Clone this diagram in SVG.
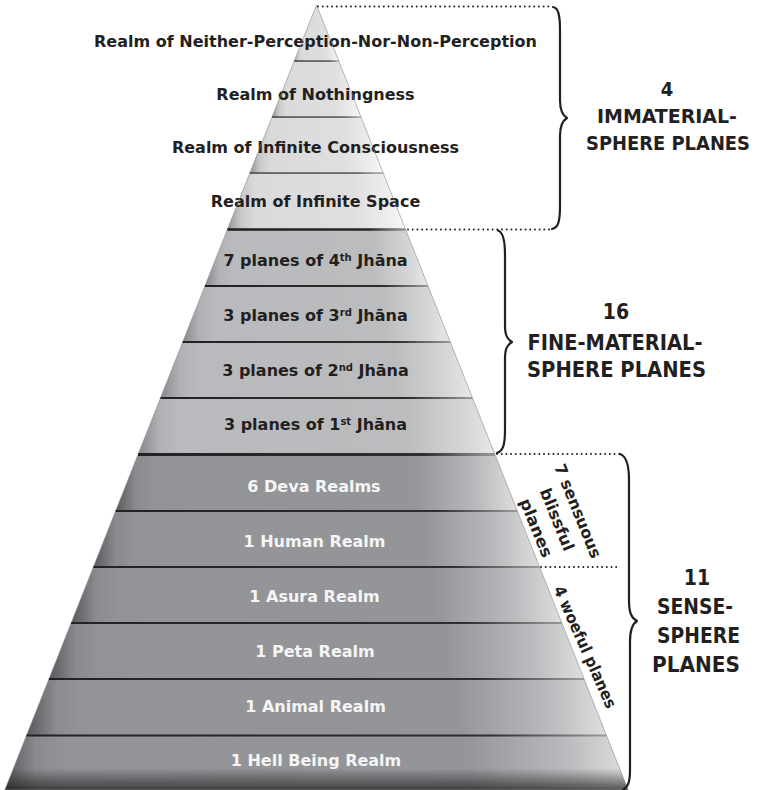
<svg xmlns="http://www.w3.org/2000/svg" width="757" height="790" viewBox="0 0 757 790">
<style>
.lbl{font-family:"DejaVu Sans",Verdana,sans-serif;font-weight:bold;font-size:16px;text-anchor:middle}
.dk{fill:#231f20}
.lt{fill:#f5f5f5}
.cat{font-family:"DejaVu Sans Condensed","DejaVu Sans",sans-serif;font-stretch:condensed;font-weight:bold;fill:#231f20;text-anchor:middle}
.rot{font-family:"DejaVu Sans Condensed","DejaVu Sans",sans-serif;font-stretch:condensed;font-weight:bold;font-size:16px;fill:#231f20;text-anchor:middle}
.brace{fill:none;stroke:#231f20;stroke-width:2.2;stroke-linecap:round;stroke-linejoin:round}
.dots{fill:none;stroke:#231f20;stroke-width:2;stroke-linecap:round;stroke-dasharray:0 4.7}
.imm{fill:url(#gImm)}
.fin{fill:url(#gFin)}
.sen{fill:url(#gSen)}
</style>
<defs>
<linearGradient id="gImm" x1="0" y1="0" x2="1" y2="0">
<stop offset="0" stop-color="#959596"/>
<stop offset="0.08" stop-color="#cacacb"/>
<stop offset="0.16" stop-color="#dadadb"/>
<stop offset="0.7" stop-color="#dfdfe0"/>
<stop offset="0.9" stop-color="#ededed"/>
<stop offset="1" stop-color="#f8f8f8"/>
</linearGradient>
<linearGradient id="gFin" x1="0" y1="0" x2="1" y2="0">
<stop offset="0" stop-color="#86878a"/>
<stop offset="0.06" stop-color="#b0b1b4"/>
<stop offset="0.12" stop-color="#b9babd"/>
<stop offset="0.75" stop-color="#bbbcbe"/>
<stop offset="0.92" stop-color="#d5d6d7"/>
<stop offset="1" stop-color="#e8e8e8"/>
</linearGradient>
<linearGradient id="gSen" x1="0" y1="0" x2="1" y2="0">
<stop offset="0" stop-color="#58595c"/>
<stop offset="0.05" stop-color="#8a8b8f"/>
<stop offset="0.1" stop-color="#939498"/>
<stop offset="0.74" stop-color="#949599"/>
<stop offset="0.9" stop-color="#b9babd"/>
<stop offset="1" stop-color="#dedede"/>
</linearGradient>
<linearGradient id="gBot" x1="0" y1="0" x2="0" y2="1">
<stop offset="0" stop-color="#1a1a1a" stop-opacity="0"/>
<stop offset="0.6" stop-color="#1a1a1a" stop-opacity="0"/>
<stop offset="1" stop-color="#1a1a1a" stop-opacity="0.7"/>
</linearGradient>
<linearGradient id="gLine" x1="0" y1="0" x2="1" y2="0">
<stop offset="0" stop-color="#222"/>
<stop offset="0.8" stop-color="#2e2e2e"/>
<stop offset="1" stop-color="#9a9a9a"/>
</linearGradient>
</defs>
<rect width="757" height="790" fill="#fff"/>

<!-- Immaterial-sphere planes -->
<g id="band-neither">
<polygon class="imm" points="316.5,5 338.73,61 294.27,61"/>
<text class="lbl dk" x="315.5" y="46.5">Realm of Neither-Perception-Nor-Non-Perception</text>
</g>
<g id="band-nothingness">
<polygon class="imm" points="294.27,61 338.73,61 360.96,117 272.04,117"/>
<text class="lbl dk" x="315.5" y="99.5">Realm of Nothingness</text>
</g>
<g id="band-inf-consciousness">
<polygon class="imm" points="272.04,117 360.96,117 383.2,173 249.8,173"/>
<text class="lbl dk" x="315.5" y="152.5">Realm of Infinite Consciousness</text>
</g>
<g id="band-inf-space">
<polygon class="imm" points="249.8,173 383.2,173 405.63,229.5 227.37,229.5"/>
<text class="lbl dk" x="315.5" y="206.5">Realm of Infinite Space</text>
</g>

<!-- Fine-material-sphere planes -->
<g id="band-jhana4">
<polygon class="fin" points="227.37,229.5 405.63,229.5 428.06,286 204.94,286"/>
<text class="lbl dk" x="315.5" y="266">7 planes of 4<tspan font-size="10" dy="-5">th</tspan><tspan dy="5"> Jhāna</tspan></text>
</g>
<g id="band-jhana3">
<polygon class="fin" points="204.94,286 428.06,286 450.29,342 182.71,342"/>
<text class="lbl dk" x="315.5" y="320.5">3 planes of 3<tspan font-size="10" dy="-5">rd</tspan><tspan dy="5"> Jhāna</tspan></text>
</g>
<g id="band-jhana2">
<polygon class="fin" points="182.71,342 450.29,342 472.52,398 160.48,398"/>
<text class="lbl dk" x="315.5" y="375.5">3 planes of 2<tspan font-size="10" dy="-5">nd</tspan><tspan dy="5"> Jhāna</tspan></text>
</g>
<g id="band-jhana1">
<polygon class="fin" points="160.48,398 472.52,398 494.95,454.5 138.05,454.5"/>
<text class="lbl dk" x="315.5" y="429.5">3 planes of 1<tspan font-size="10" dy="-5">st</tspan><tspan dy="5"> Jhāna</tspan></text>
</g>

<!-- Sense-sphere planes -->
<g id="band-deva">
<polygon class="sen" points="138.05,454.5 494.95,454.5 517.38,511 115.62,511"/>
<text class="lbl lt" x="314" y="491.5">6 Deva Realms</text>
</g>
<g id="band-human">
<polygon class="sen" points="115.62,511 517.38,511 539.61,567 93.39,567"/>
<text class="lbl lt" x="314.5" y="546.5">1 Human Realm</text>
</g>
<g id="band-asura">
<polygon class="sen" points="93.39,567 539.61,567 561.85,623 71.15,623"/>
<text class="lbl lt" x="314.5" y="601.5">1 Asura Realm</text>
</g>
<g id="band-peta">
<polygon class="sen" points="71.15,623 561.85,623 584.08,679 48.92,679"/>
<text class="lbl lt" x="315" y="656.5">1 Peta Realm</text>
</g>
<g id="band-animal">
<polygon class="sen" points="48.92,679 584.08,679 606.51,735.5 26.49,735.5"/>
<text class="lbl lt" x="315.5" y="711.5">1 Animal Realm</text>
</g>
<g id="band-hell">
<polygon class="sen" points="26.49,735.5 606.51,735.5 628.15,790 4.85,790"/>
<polygon fill="url(#gBot)" points="26.49,735.5 606.51,735.5 628.15,790 4.85,790"/>
<text class="lbl lt" x="316" y="766">1 Hell Being Realm</text>
</g>

<!-- pyramid outline and band dividers -->
<g id="dividers">
<polygon points="316.5,5 628.15,790 4.85,790" fill="none" stroke="#8a8a8a" stroke-width="0.6"/>
<rect x="294.27" y="60.3" width="44.46" height="1.5" fill="url(#gLine)" opacity="0.8"/>
<rect x="272.04" y="116.3" width="88.92" height="1.5" fill="url(#gLine)" opacity="0.8"/>
<rect x="249.8" y="172.3" width="133.4" height="1.5" fill="url(#gLine)" opacity="0.8"/>
<rect x="227.37" y="228.2" width="178.26" height="2.6" fill="url(#gLine)"/>
<rect x="204.94" y="285" width="223.12" height="2" fill="url(#gLine)"/>
<rect x="182.71" y="341" width="267.58" height="2" fill="url(#gLine)"/>
<rect x="160.48" y="397" width="312.04" height="2" fill="url(#gLine)"/>
<rect x="138.05" y="453" width="356.9" height="3" fill="url(#gLine)"/>
<rect x="115.62" y="510" width="401.76" height="2" fill="url(#gLine)"/>
<rect x="93.39" y="566" width="446.22" height="2" fill="url(#gLine)"/>
<rect x="71.15" y="622" width="490.7" height="2" fill="url(#gLine)"/>
<rect x="48.92" y="678" width="535.16" height="2" fill="url(#gLine)"/>
<rect x="26.49" y="734.5" width="580.02" height="2" fill="url(#gLine)"/>
</g>

<!-- connectors: braces and dotted guides -->
<g id="connectors">
<path class="dots" d="M318,6.5 H552"/>
<path class="dots" d="M408,229.5 H552"/>
<path class="dots" d="M497,454 H620"/>
<path class="dots" d="M541,567 H620"/>
<path class="brace" d="M553,7 C558,8 560,14 560,30 L560,100 C560,110 562,115 567,118 C562,121 560,126 560,136 L560,206 C560,222 558,228 552,229"/>
<path class="brace" d="M498,230.5 C503,232 505,240 505,255 L505,325 C505,335 507,339 512,342 C507,345 505,349 505,359 L505,430 C505,445 503,451 497,453"/>
<path class="brace" d="M620,454 C626,456 629,464 629,480 L629,600 C629,612 631,618 637,621 C632,624 630,630 630,642 L630,770 C630,782 628,787 623,790"/>
</g>

<!-- category labels -->
<g id="label-immaterial">
<text class="cat" x="667" y="96" font-size="20">4</text>
<text class="cat" x="667" y="123" font-size="20" textLength="140" lengthAdjust="spacingAndGlyphs">IMMATERIAL-</text>
<text class="cat" x="668" y="150" font-size="20" textLength="164" lengthAdjust="spacingAndGlyphs">SPHERE PLANES</text>
</g>
<g id="label-finematerial">
<text class="cat" x="616" y="319" font-size="21">16</text>
<text class="cat" x="615" y="350" font-size="21" textLength="175" lengthAdjust="spacingAndGlyphs">FINE-MATERIAL-</text>
<text class="cat" x="616.5" y="377" font-size="21" textLength="179" lengthAdjust="spacingAndGlyphs">SPHERE PLANES</text>
</g>
<g id="label-sense">
<text class="cat" x="697" y="585" font-size="21">11</text>
<text class="cat" x="695" y="614" font-size="21" textLength="76" lengthAdjust="spacingAndGlyphs">SENSE-</text>
<text class="cat" x="698.5" y="643" font-size="21" textLength="83" lengthAdjust="spacingAndGlyphs">SPHERE</text>
<text class="cat" x="696" y="672" font-size="21" textLength="88" lengthAdjust="spacingAndGlyphs">PLANES</text>
</g>
<g id="label-blissful" transform="translate(557,519.5) rotate(68)">
<text class="rot" x="0" y="-17" textLength="100" lengthAdjust="spacingAndGlyphs">7 sensuous</text>
<text class="rot" x="0" y="5.5" textLength="66" lengthAdjust="spacingAndGlyphs">blissful</text>
<text class="rot" x="0" y="28" textLength="62" lengthAdjust="spacingAndGlyphs">planes</text>
</g>
<g id="label-woeful" transform="translate(585,647) rotate(66)">
<text class="rot" x="0" y="5.5" textLength="132" lengthAdjust="spacingAndGlyphs">4 woeful planes</text>
</g>
</svg>
